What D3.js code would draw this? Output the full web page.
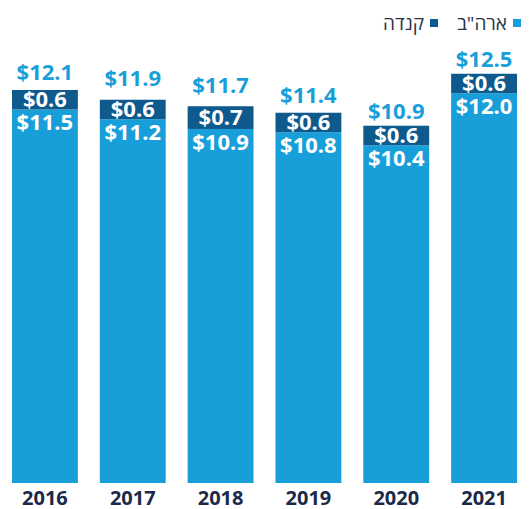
<!DOCTYPE html>
<html>
<head>
<meta charset="utf-8">
<script src="https://cdn.jsdelivr.net/npm/d3@7"></script>
<style>
  body { margin: 0; background: #fff; }
  svg text { font-family: "Open Sans", sans-serif; }
</style>
</head>
<body>
<div id="chart"></div>
<script>
const years = ["2016", "2017", "2018", "2019", "2020", "2021"]
const usa = [11.5, 11.2, 10.9, 10.8, 10.4, 12.0]
const canada = [0.6, 0.6, 0.7, 0.6, 0.6, 0.6]
const totals = [12.1, 11.9, 11.7, 11.4, 10.9, 12.5]
const seriesNames = ["ארה\"ב", "קנדה"]

const sizing = { width: 529, height: 509 }
const margin = { top: 77, bot: 26, left: 1, right: 1 }

const colors = { usa: "#189fda", canada: "#0f5a8c", total: "#189fda", axis: "#1b2a48" }

const svg = d3.select("#chart").append("svg")
    .attr("width", sizing.width)
    .attr("height", sizing.height)

const x = d3.scaleBand()
    .domain(years)
    .range([margin.left, sizing.width - margin.right])
    .paddingInner(0.25)
    .paddingOuter(0.125)

const y = d3.scaleLinear()
    .domain([0, 12.5])
    .range([sizing.height - margin.bot, margin.top])

const data = years.map((yr, i) => ({ year: yr, usa: usa[i], canada: canada[i], total: totals[i] }))

const bars = svg.append("g")

// US segment
bars.selectAll(".usa").data(data).join("rect")
    .attr("class", "usa")
    .attr("x", d => x(d.year))
    .attr("width", x.bandwidth())
    .attr("y", d => y(d.usa))
    .attr("height", d => y(0) - y(d.usa))
    .attr("fill", colors.usa)

// Canada segment on top
bars.selectAll(".canada").data(data).join("rect")
    .attr("class", "canada")
    .attr("x", d => x(d.year))
    .attr("width", x.bandwidth())
    .attr("y", d => y(d.usa + d.canada))
    .attr("height", d => y(d.usa) - y(d.usa + d.canada))
    .attr("fill", colors.canada)

const fmt = v => "$" + v.toFixed(1)

bars.selectAll(".lblCanada").data(data).join("text")
    .attr("x", d => x(d.year) + x.bandwidth() / 2)
    .attr("y", d => (y(d.usa) + y(d.usa + d.canada)) / 2 + 7.5)
    .attr("text-anchor", "middle")
    .attr("fill", "#fff")
    .attr("font-weight", 700)
    .attr("font-size", 22)
    .text(d => fmt(d.canada))

bars.selectAll(".lblUsa").data(data).join("text")
    .attr("x", d => x(d.year) + x.bandwidth() / 2)
    .attr("y", d => y(d.usa) + 21)
    .attr("text-anchor", "middle")
    .attr("fill", "#fff")
    .attr("font-weight", 700)
    .attr("font-size", 22)
    .text(d => fmt(d.usa))

bars.selectAll(".lblTotal").data(data).join("text")
    .attr("x", d => x(d.year) + x.bandwidth() / 2)
    .attr("y", d => y(d.total) - 10)
    .attr("text-anchor", "middle")
    .attr("fill", colors.total)
    .attr("font-weight", 700)
    .attr("font-size", 22)
    .text(d => fmt(d.total))

// x axis labels
const xAxis = d3.axisBottom(x).tickSize(0).tickPadding(8)
const xGroup = svg.append("g")
    .attr("transform", `translate(0,${y(0)})`)
    .call(xAxis)
xGroup.select(".domain").remove()
xGroup.selectAll("text")
    .attr("font-size", 20)
    .attr("font-weight", 700)
    .attr("fill", colors.axis)
    .attr("font-family", "Open Sans, sans-serif")

// legend (right to left)
const legend = svg.append("g")
const legendItems = [
    { name: seriesNames[0], color: colors.usa, right: 521 },
    { name: seriesNames[1], color: colors.canada, right: 438 }
]
legendItems.forEach(it => {
    legend.append("rect")
        .attr("x", it.right - 8)
        .attr("y", 19)
        .attr("width", 8)
        .attr("height", 8)
        .attr("fill", it.color)
    legend.append("text")
        .attr("x", it.right - 14)
        .attr("y", 30)
        .attr("text-anchor", "end")
        .attr("font-size", 19)
        .attr("fill", "#2b3548")
        .text(it.name)
})
</script>
</body>
</html>
